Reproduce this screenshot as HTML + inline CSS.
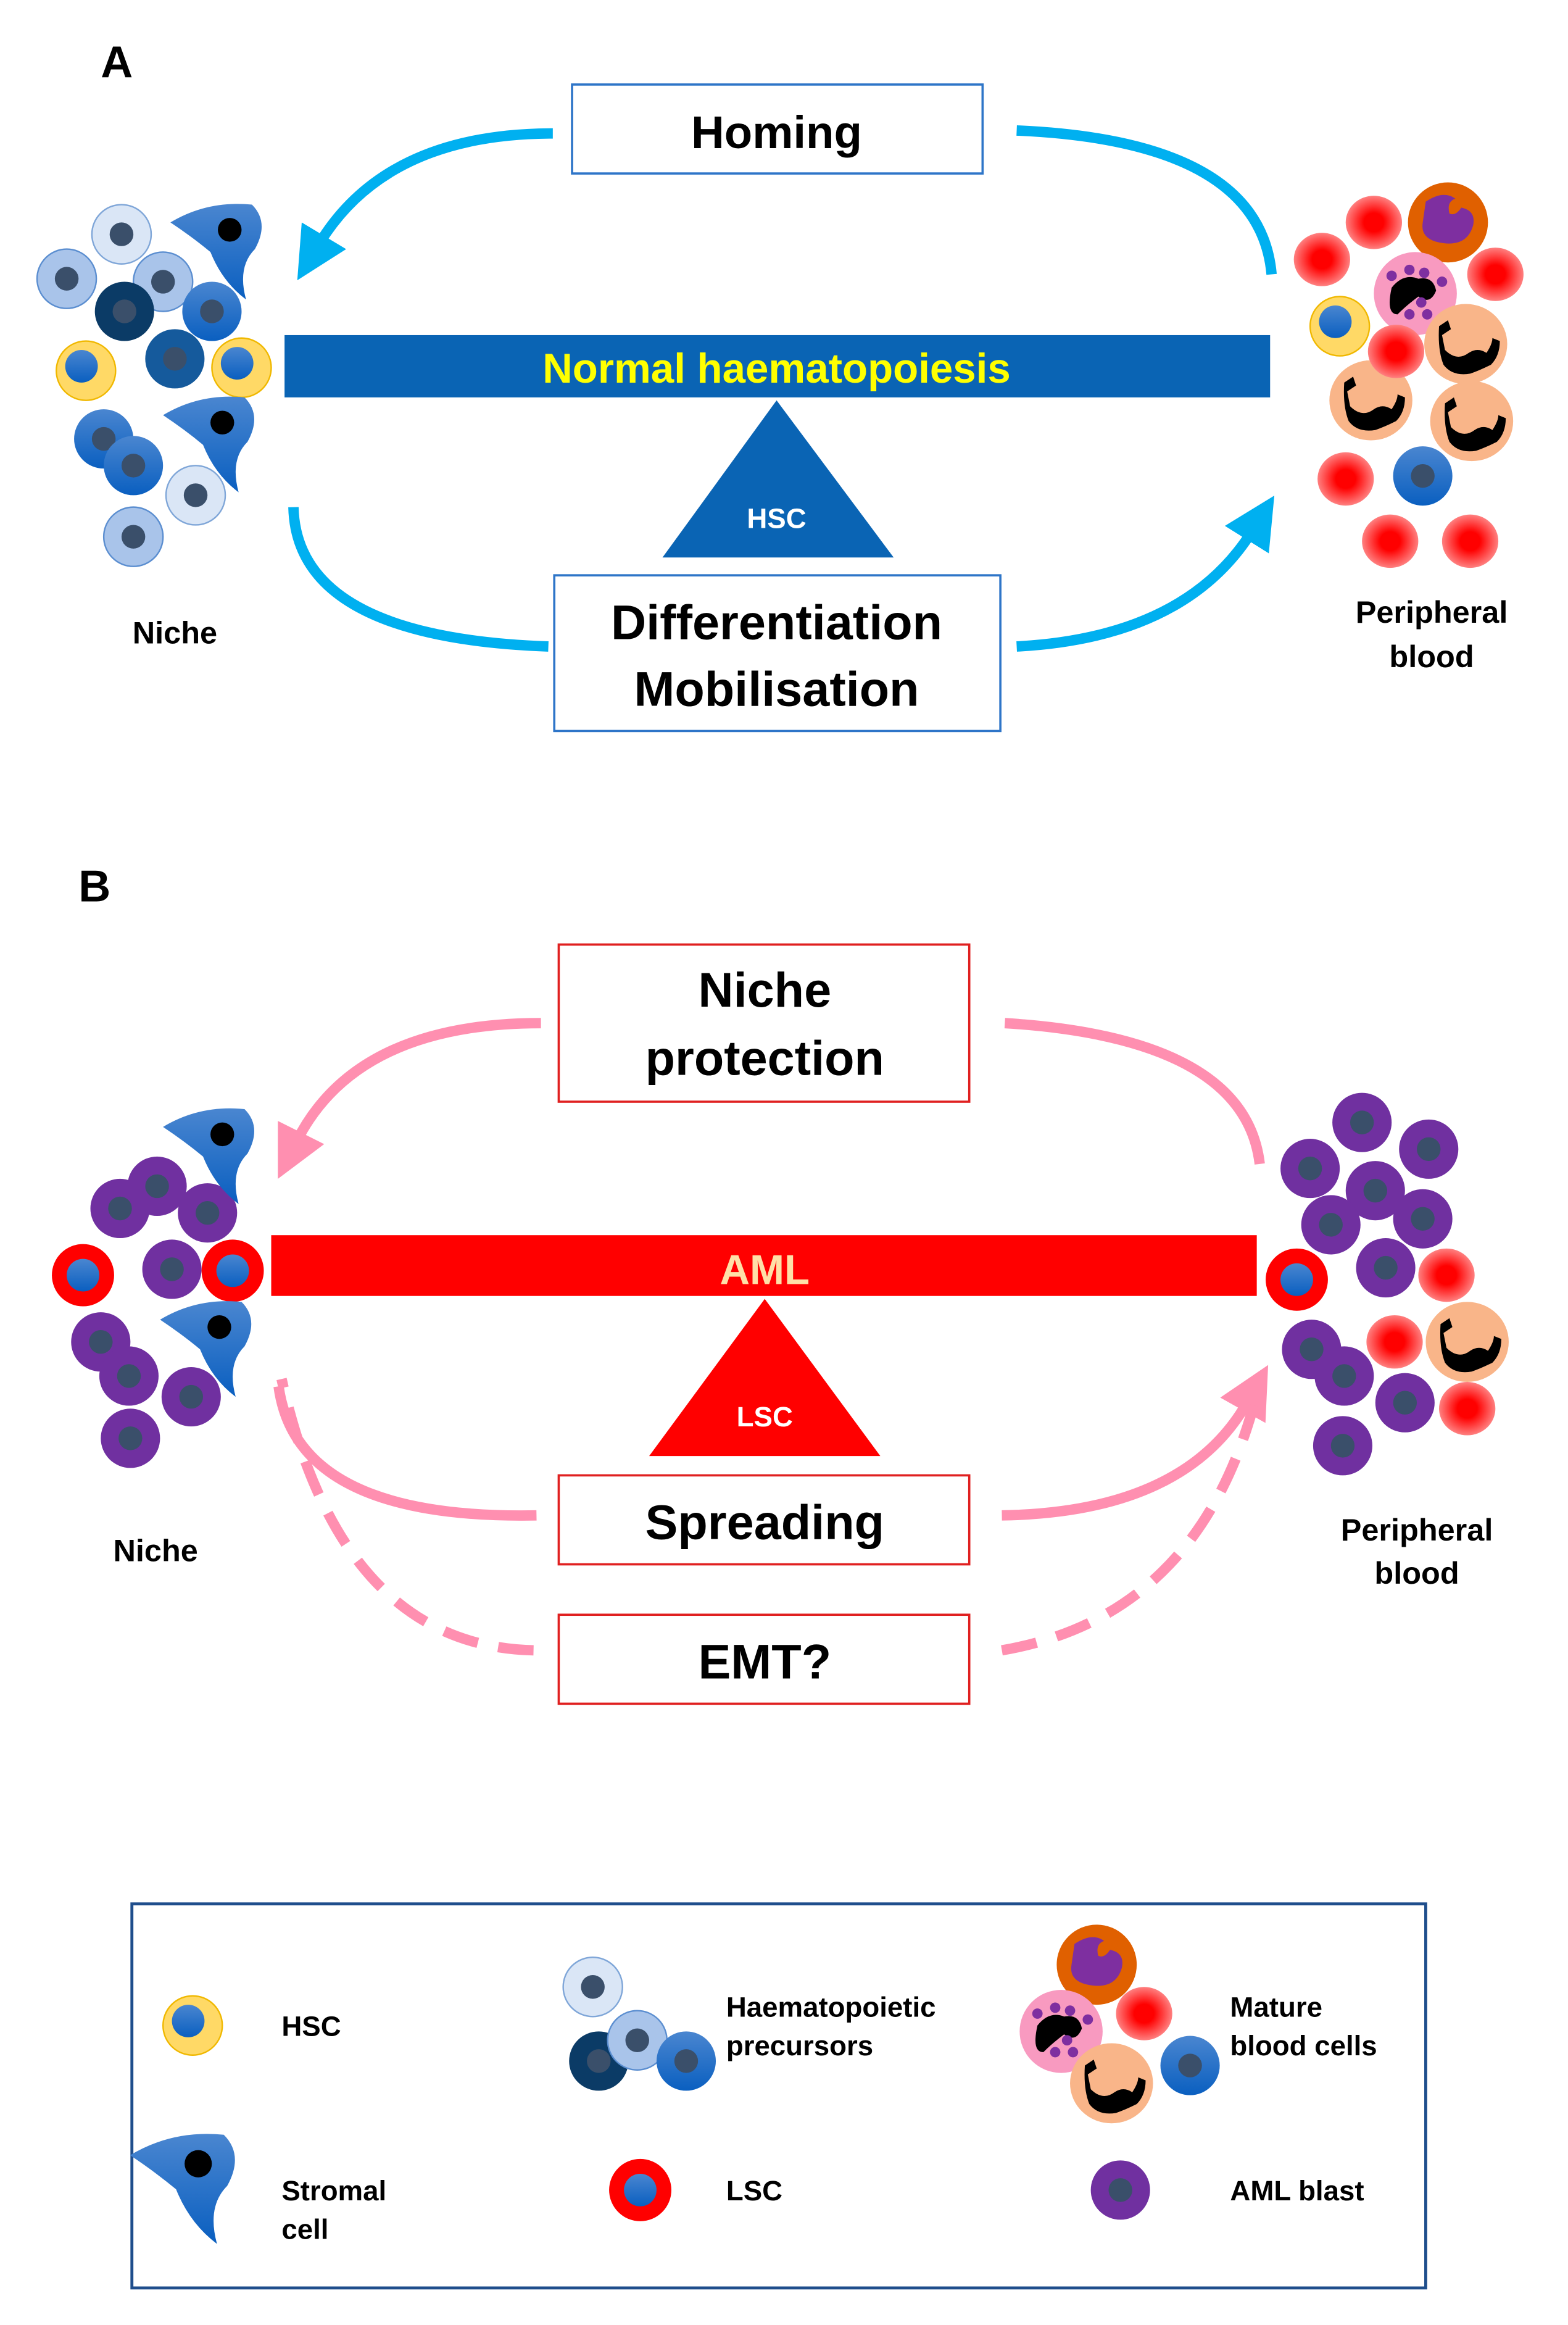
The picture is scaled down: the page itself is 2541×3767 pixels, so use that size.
<!DOCTYPE html>
<html><head><meta charset="utf-8"><style>
html,body{margin:0;padding:0;background:#fff}
svg{display:block}
text{font-family:"Liberation Sans",sans-serif;font-weight:bold}
</style></head><body>
<svg width="2541" height="3767" viewBox="0 0 1058 1568" preserveAspectRatio="none" xmlns="http://www.w3.org/2000/svg">
<defs>
<radialGradient id="rbc"><stop offset="0.35" stop-color="#ff0000"/><stop offset="1" stop-color="#ff8080"/></radialGradient>
<linearGradient id="bl" x1="0" y1="0" x2="0" y2="1"><stop offset="0" stop-color="#4a86d0"/><stop offset="1" stop-color="#0a5fc0"/></linearGradient>
<g id="rbc1"><ellipse rx="19" ry="18" fill="url(#rbc)"/></g>
<g id="hsc"><circle r="20" fill="#ffd966" stroke="#f0b800" stroke-width="1"/><circle cx="-3" cy="-3" r="11" fill="url(#bl)"/></g>
<g id="pl"><circle r="20" fill="#a9c4ea" stroke="#5b8ed0" stroke-width="1"/><circle r="8" fill="#3a4f6a"/></g>
<g id="pvl"><circle r="20" fill="#dae6f6" stroke="#7fa6d8" stroke-width="1"/><circle r="8" fill="#3a4f6a"/></g>
<g id="pm"><circle r="20" fill="url(#bl)"/><circle r="8" fill="#3a4f6a"/></g>
<g id="pd"><circle r="20" fill="#0b3b66"/><circle r="8" fill="#3a4f6a"/></g>
<g id="pdb"><circle r="20" fill="#155a9c"/><circle r="8" fill="#3a4f6a"/></g>
<g id="aml"><circle r="20" fill="#7030a0"/><circle r="8" fill="#3a4f6a"/></g>
<g id="lsc"><circle r="21" fill="#ff0000"/><circle r="11" fill="url(#bl)"/></g>
<g id="neu"><ellipse rx="28" ry="27" fill="#f9b589"/><path d="M-18,-12 l6,-4 l2,6 l-6,4 l2,10 q8,8 16,2 q6,-4 12,0 q4,-6 4,-10 l5,2 q0,10 -6,16 q-8,4 -14,6 q-12,2 -18,-6 q-4,-10 -3,-26z" fill="#000"/></g>
<g id="str"><path d="M-35,-10 Q-10,-25 20,-22 Q32,-10 22,8 Q10,20 16,42 Q0,30 -8,10 Q-20,0 -35,-10z" fill="url(#bl)"/><circle cx="5" cy="-5" r="8" fill="#000"/></g>
<g id="mono"><circle r="27" fill="#e06000"/><path d="M-15,-14 q12,-8 20,-2 q-6,2 -4,10 q4,2 8,-4 q10,2 8,12 q-4,14 -20,12 q-16,-2 -14,-14z" fill="#7e2fa0"/></g>
<g id="eos"><circle r="28" fill="#f89ac0"/><path d="M-16,-4 q8,-10 18,-6 q10,-2 12,8 q-4,10 -12,4 q-8,6 -14,12 q-8,0 -4,-18z" fill="#000"/><circle cx="-16" cy="-12" r="3.5" fill="#7e2fa0"/><circle cx="-4" cy="-16" r="3.5" fill="#7e2fa0"/><circle cx="6" cy="-14" r="3.5" fill="#7e2fa0"/><circle cx="18" cy="-8" r="3.5" fill="#7e2fa0"/><circle cx="4" cy="6" r="3.5" fill="#7e2fa0"/><circle cx="-4" cy="14" r="3.5" fill="#7e2fa0"/><circle cx="8" cy="14" r="3.5" fill="#7e2fa0"/></g>
<marker id="ac" markerWidth="5" markerHeight="5" refX="1" refY="2.5" orient="auto" markerUnits="strokeWidth"><path d="M0,0 L5,2.5 L0,5z" fill="#00b0f0"/></marker>
<marker id="ap" markerWidth="5" markerHeight="5" refX="1" refY="2.5" orient="auto" markerUnits="strokeWidth"><path d="M0,0 L5,2.5 L0,5z" fill="#ff8fb0"/></marker>
</defs>

<!-- Panel A -->
<text x="68" y="52" font-size="30">A</text>
<g fill="none" stroke="#00b0f0" stroke-width="7">
<path d="M373,90 Q260,90 215,165" marker-end="url(#ac)"/>
<path d="M686,88 Q850,95 858,185"/>
<path d="M198,342 Q200,430 370,436"/>
<path d="M686,436 Q800,430 845,358" marker-end="url(#ac)"/>
</g>
<rect x="386" y="57" width="277" height="60" fill="#fff" stroke="#2e75c8" stroke-width="1.5"/>
<text x="524" y="100" font-size="31" text-anchor="middle">Homing</text>
<rect x="192" y="226" width="665" height="42" fill="#0a64b4"/>
<text x="524" y="258" font-size="28" text-anchor="middle" fill="#ffff00">Normal haematopoiesis</text>
<path d="M524,270 L603,376 L447,376z" fill="#0a64b4"/>
<text x="524" y="356" font-size="19" text-anchor="middle" fill="#fff">HSC</text>
<rect x="374" y="388" width="301" height="105" fill="#fff" stroke="#2e75c8" stroke-width="1.5"/>
<text x="524" y="431" font-size="33" text-anchor="middle">Differentiation</text>
<text x="524" y="476" font-size="33" text-anchor="middle">Mobilisation</text>
<text x="118" y="434" font-size="21" text-anchor="middle">Niche</text>
<text x="966" y="420" font-size="21" text-anchor="middle">Peripheral</text>
<text x="966" y="450" font-size="21" text-anchor="middle">blood</text>

<use href="#pl" x="45" y="188"/><use href="#pvl" x="82" y="158"/><use href="#pl" x="110" y="190"/>
<use href="#pd" x="84" y="210"/><use href="#pm" x="143" y="210"/><use href="#pdb" x="118" y="242"/>
<use href="#hsc" x="58" y="250"/><use href="#hsc" x="163" y="248"/>
<use href="#pm" x="70" y="296"/><use href="#pm" x="90" y="314"/><use href="#pvl" x="132" y="334"/><use href="#pl" x="90" y="362"/>
<use href="#str" x="150" y="160"/><use href="#str" x="145" y="290"/>

<use href="#rbc1" x="927" y="150"/><use href="#rbc1" x="892" y="175"/><use href="#mono" x="977" y="150"/>
<use href="#rbc1" x="1009" y="185"/><use href="#eos" x="955" y="198"/><use href="#hsc" x="904" y="220"/>
<use href="#neu" x="989" y="232"/><use href="#neu" x="925" y="270"/><use href="#rbc1" x="942" y="237"/>
<use href="#neu" x="993" y="284"/><use href="#rbc1" x="908" y="323"/><use href="#pm" x="960" y="321"/>
<use href="#rbc1" x="938" y="365"/><use href="#rbc1" x="992" y="365"/>

<!-- Panel B -->
<text x="53" y="608" font-size="30">B</text>
<g fill="none" stroke="#ff8fb0" stroke-width="7">
<path d="M365,690 Q240,690 200,770" marker-end="url(#ap)"/>
<path d="M678,690 Q840,700 850,785"/>
<path d="M362,1022 Q200,1025 188,935"/>
<path d="M676,1022 Q800,1020 842,945" marker-end="url(#ap)"/>
<path d="M360,1113 Q230,1110 190,930" stroke-dasharray="24,14"/>
<path d="M676,1113 Q810,1090 848,940" stroke-dasharray="24,14"/>
</g>
<rect x="377" y="637" width="277" height="106" fill="#fff" stroke="#e02020" stroke-width="1.5"/>
<text x="516" y="679" font-size="33" text-anchor="middle">Niche</text>
<text x="516" y="725" font-size="33" text-anchor="middle">protection</text>
<rect x="183" y="833" width="665" height="41" fill="#ff0000"/>
<text x="516" y="866" font-size="28" text-anchor="middle" fill="#ffe0a8">AML</text>
<path d="M516,876 L594,982 L438,982z" fill="#ff0000"/>
<text x="516" y="962" font-size="19" text-anchor="middle" fill="#fff">LSC</text>
<rect x="377" y="995" width="277" height="60" fill="#fff" stroke="#e02020" stroke-width="1.5"/>
<text x="516" y="1038" font-size="33" text-anchor="middle">Spreading</text>
<rect x="377" y="1089" width="277" height="60" fill="#fff" stroke="#e02020" stroke-width="1.5"/>
<text x="516" y="1132" font-size="33" text-anchor="middle">EMT?</text>
<text x="105" y="1053" font-size="21" text-anchor="middle">Niche</text>
<text x="956" y="1039" font-size="21" text-anchor="middle">Peripheral</text>
<text x="956" y="1068" font-size="21" text-anchor="middle">blood</text>

<use href="#aml" x="81" y="815"/><use href="#aml" x="106" y="800"/><use href="#aml" x="140" y="818"/>
<use href="#aml" x="116" y="856"/><use href="#lsc" x="56" y="860"/><use href="#lsc" x="157" y="857"/>
<use href="#aml" x="68" y="905"/><use href="#aml" x="87" y="928"/><use href="#aml" x="129" y="942"/><use href="#aml" x="88" y="970"/>
<use href="#str" x="145" y="770"/><use href="#str" x="143" y="900"/>

<use href="#aml" x="919" y="757"/><use href="#aml" x="964" y="775"/><use href="#aml" x="884" y="788"/>
<use href="#aml" x="928" y="803"/><use href="#aml" x="960" y="822"/><use href="#aml" x="898" y="826"/>
<use href="#aml" x="935" y="855"/><use href="#rbc1" x="976" y="860"/><use href="#lsc" x="875" y="863"/>
<use href="#aml" x="885" y="910"/><use href="#rbc1" x="941" y="905"/><use href="#neu" x="990" y="905"/>
<use href="#aml" x="907" y="928"/><use href="#aml" x="948" y="946"/><use href="#rbc1" x="990" y="950"/><use href="#aml" x="906" y="975"/>

<!-- Legend -->
<rect x="89" y="1284" width="873" height="259" fill="none" stroke="#1f4e8c" stroke-width="2"/>
<use href="#hsc" x="130" y="1366"/>
<text x="190" y="1373" font-size="19">HSC</text>
<use href="#pvl" x="400" y="1340"/><use href="#pd" x="404" y="1390"/><use href="#pl" x="430" y="1376"/><use href="#pm" x="463" y="1390"/>
<text x="490" y="1360" font-size="19">Haematopoietic</text>
<text x="490" y="1386" font-size="19">precursors</text>
<use href="#mono" x="740" y="1325"/><use href="#rbc1" x="772" y="1358"/><use href="#eos" x="716" y="1370"/><use href="#neu" x="750" y="1405"/><use href="#pm" x="803" y="1393"/>
<text x="830" y="1360" font-size="19">Mature</text>
<text x="830" y="1386" font-size="19">blood cells</text>
<g transform="translate(128,1465) scale(1.15)"><use href="#str"/></g>
<text x="190" y="1484" font-size="19">Stromal</text>
<text x="190" y="1510" font-size="19">cell</text>
<use href="#lsc" x="432" y="1477"/>
<text x="490" y="1484" font-size="19">LSC</text>
<use href="#aml" x="756" y="1477"/>
<text x="830" y="1484" font-size="19">AML blast</text>
</svg>
</body></html>
